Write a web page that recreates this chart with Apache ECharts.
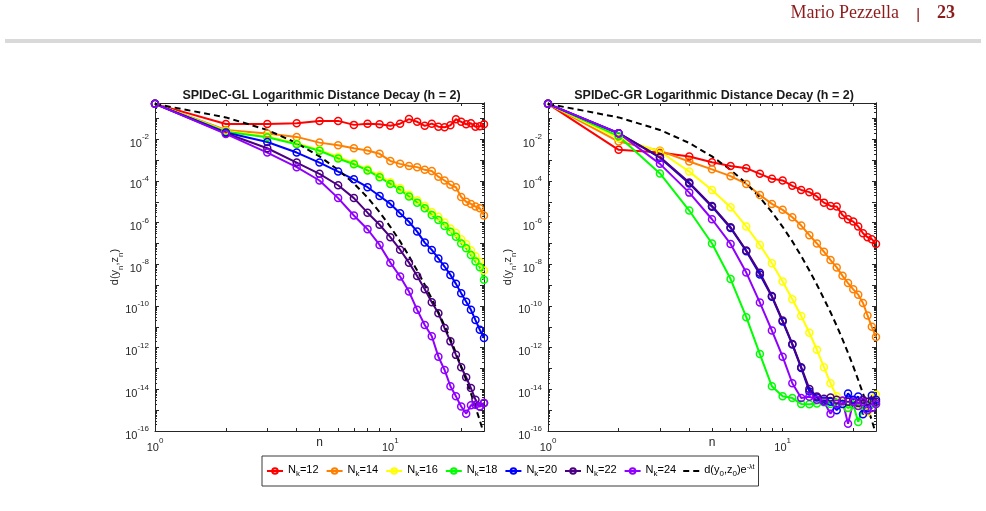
<!DOCTYPE html>
<html>
<head>
<meta charset="utf-8">
<title>SPIDeC Logarithmic Distance Decay</title>
<script src="https://cdn.jsdelivr.net/npm/echarts@6.0.0/dist/echarts.min.js"></script>
<style>
html,body{margin:0;padding:0;background:#ffffff;}
#chart{width:986px;height:511px;}
</style>
</head>
<body>
<div id="chart"></div>
<script>
// ---------------- data ----------------
const nSteps = [1,2,3,4,5,6,7,8,9,10,11,12,13,14,15,16,17,18,19,20,21,22,23,24,25];
const seriesNames = ['Nk=12','Nk=14','Nk=16','Nk=18','Nk=20','Nk=22','Nk=24'];
const boundName = 'd(y0,z0)e-λt';
const plotTitles = ['SPIDeC-GL Logarithmic Distance Decay (h = 2)', 'SPIDeC-GR Logarithmic Distance Decay (h = 2)'];
const xTickLabelExponents = [0, 1];
const yTickLabelExponents = [-16, -14, -12, -10, -8, -6, -4, -2];

// SPIDeC-GL  d(y_n, z_n)
const glN12 = [5.0e-1,5.4e-2,5.4e-2,5.9e-2,7.6e-2,7.6e-2,4.9e-2,5.6e-2,5.2e-2,4.5e-2,5.6e-2,9.3e-2,6.9e-2,4.4e-2,5.6e-2,4.0e-2,3.8e-2,4.7e-2,9.1e-2,6.9e-2,5.2e-2,5.9e-2,4.0e-2,4.2e-2,5.2e-2];
const glN14 = [5.0e-1,2.8e-2,1.9e-2,1.3e-2,6.9e-3,5.1e-3,3.7e-3,2.9e-3,2.0e-3,9.1e-4,6.6e-4,5.2e-4,4.6e-4,3.4e-4,3.0e-4,1.6e-4,1.05e-4,6.5e-5,5.0e-5,1.7e-5,1.0e-5,7.9e-6,5.9e-6,4.9e-6,2.2e-6];
const glN16 = [5.0e-1,2.5e-2,1.35e-2,6.5e-3,3.1e-3,1.4e-3,7.1e-4,3.6e-4,1.8e-4,8.7e-5,4.6e-5,2.2e-5,1.2e-5,6.5e-6,3.2e-6,1.9e-6,1.0e-6,5.2e-7,3.2e-7,1.6e-7,9.3e-8,4.7e-8,2.4e-8,1.3e-8,5.0e-9];
const glN18 = [5.0e-1,2.3e-2,1.26e-2,5.8e-3,2.8e-3,1.2e-3,6.3e-4,3.2e-4,1.5e-4,7.2e-5,3.7e-5,1.8e-5,9.1e-6,4.9e-6,2.3e-6,1.35e-6,6.9e-7,3.6e-7,2.1e-7,1.0e-7,5.9e-8,2.8e-8,1.35e-8,7.2e-9,1.8e-9];
const glN20 = [5.0e-1,2.1e-2,7.4e-3,2.3e-3,7.6e-4,2.8e-4,1.2e-4,5.0e-5,1.9e-5,7.9e-6,2.8e-6,1.1e-6,3.7e-7,1.1e-7,4.9e-8,1.9e-8,7.8e-9,3.1e-9,1.15e-9,4.1e-10,1.6e-10,6.5e-11,2.1e-11,7.2e-12,2.9e-12];
const glN22 = [5.0e-1,1.95e-2,3.7e-3,7.6e-4,2.2e-4,6.2e-5,1.5e-5,3.0e-6,7.9e-7,2.0e-7,5.0e-8,1.2e-8,2.75e-9,6.3e-10,1.5e-10,4.5e-11,8.7e-12,2.0e-12,4.5e-13,1.15e-13,3.8e-14,1.15e-14,3.2e-15,1.5e-15,2.2e-15];
const glN24 = [5.0e-1,1.8e-2,2.3e-3,4.6e-4,1.05e-4,1.5e-5,2.2e-6,4.8e-7,8.5e-8,1.2e-8,2.6e-9,4.9e-10,6.5e-11,1.23e-11,3.5e-12,3.7e-13,8.5e-14,1.4e-14,4.6e-15,1.5e-15,6.8e-16,1.7e-15,1.8e-15,1.5e-15,2.2e-15];

// SPIDeC-GR  d(y_n, z_n)
const grN12 = [5.0e-1,3.1e-3,2.3e-3,1.5e-3,7.9e-4,5.2e-4,4.1e-4,2.2e-4,1.26e-4,1.05e-4,5.8e-5,3.7e-5,2.9e-5,1.8e-5,9.1e-6,6.3e-6,5.9e-6,2.3e-6,1.45e-6,1.12e-6,6.5e-7,3.1e-7,2.0e-7,1.6e-7,9.5e-8];
const grN14 = [5.0e-1,7.8e-3,2.8e-3,8.5e-4,3.6e-4,1.7e-4,7.2e-5,2.1e-5,7.9e-6,4.1e-6,1.8e-6,7.2e-7,2.5e-7,1.0e-7,4.0e-8,1.6e-8,7.1e-9,2.8e-9,1.26e-9,6.3e-10,3.5e-10,1.4e-10,3.5e-11,1.0e-11,3.2e-12];
const grN16 = [5.0e-1,1.12e-2,2.6e-3,2.8e-4,3.7e-5,5.5e-6,6.5e-7,8.5e-8,1.12e-8,1.5e-9,2.1e-10,3.3e-11,5.2e-12,7.9e-13,1.15e-13,1.95e-14,4.6e-15,2.2e-15,1.26e-15,2.5e-15,1.8e-15,1.6e-15,7.9e-16,4.0e-15,5.5e-15];
const grN18 = [5.0e-1,1.4e-2,2.3e-4,3.8e-6,1.0e-7,1.95e-9,2.9e-11,4.9e-13,1.4e-14,4.6e-15,3.8e-15,2.0e-15,1.9e-15,2.1e-15,2.4e-15,2.0e-15,2.2e-15,2.0e-15,1.26e-15,1.8e-15,2.7e-16,1.6e-15,1.12e-15,2.0e-15,2.0e-15];
const grN20 = [5.0e-1,1.95e-2,1.3e-3,7.6e-5,5.8e-6,5.5e-7,4.2e-8,3.2e-9,2.75e-10,1.8e-11,1.4e-12,1.05e-13,7.9e-15,4.0e-15,2.8e-15,2.5e-15,1.0e-15,2.0e-15,6.3e-15,3.2e-15,4.5e-15,6.3e-16,1.26e-15,5.0e-15,3.2e-15];
const grN22 = [5.0e-1,1.95e-2,1.4e-3,8.3e-5,6.3e-6,6.0e-7,4.6e-8,3.9e-9,3.0e-10,2.0e-11,1.5e-12,1.15e-13,1.05e-14,4.5e-15,3.5e-15,4.0e-15,3.2e-15,2.8e-15,2.5e-15,2.5e-15,2.2e-15,3.2e-15,2.5e-15,2.8e-15,2.5e-15];
const grN24 = [5.0e-1,1.95e-2,6.6e-4,2.75e-5,1.45e-6,9.5e-8,4.0e-9,1.45e-10,6.6e-12,3.7e-13,1.95e-14,3.8e-15,4.4e-15,3.2e-15,2.5e-15,6.8e-16,2.0e-15,2.8e-15,2.2e-16,2.5e-15,1.6e-15,2.5e-15,1.0e-15,1.26e-15,2.0e-15];

// black dashed reference curve d(y0,z0) e^{-λt}, same in both panels
const boundValues = [5.0e-1,1.12e-1,2.8e-2,6.6e-3,1.5e-3,3.4e-4,7.6e-5,1.6e-5,3.2e-6,6.3e-7,1.26e-7,2.5e-8,5.0e-9,1.05e-9,2.2e-10,5.0e-11,1.12e-11,2.5e-12,5.6e-13,1.26e-13,2.8e-14,6.3e-15,1.4e-15,3.2e-16,7.1e-17];

// ---------------- styles ----------------
const seriesColors = ['#ff0000','#ff8000','#ffff00','#00ff00','#0000ff','#4b0082','#8f00ff'];
const FONT = '"Liberation Sans", Arial, Helvetica, sans-serif';
const SERIF = '"Liberation Serif", "DejaVu Serif", serif';
const AX = '#262626';

const glSets = [glN12, glN14, glN16, glN18, glN20, glN22, glN24];
const grSets = [grN12, grN14, grN16, grN18, grN20, grN22, grN24];

const L = Math.log10;
const xMax = L(nSteps[nSteps.length - 1]);
const yMin = -16, yMax = -0.26;

// tick positions of the log axes (in decades)
const xTickPos = [1,2,3,4,5,6,7,8,9,10,20].map(L);
const yMajorPos = []; for (let k = -16; k <= -1; k++) yMajorPos.push(k);
const yMinorPos = [];
for (let k = -16; k <= -1; k++) for (let m = 2; m <= 9; m++) { const v = k + L(m); if (v <= yMax) yMinorPos.push(v); }

const powRich = {
  b: { fontFamily: FONT, fontSize: 11, color: AX, lineHeight: 16, verticalAlign: 'bottom' },
  s: { fontFamily: FONT, fontSize: 8, color: AX, lineHeight: 8, verticalAlign: 'top' }
};
const nameRich = {
  a: { fontFamily: FONT, fontSize: 11, color: AX, lineHeight: 16, verticalAlign: 'top' },
  s: { fontFamily: FONT, fontSize: 8, color: AX, lineHeight: 8, verticalAlign: 'bottom' }
};

const grids = [
  { left: 155, top: 103, width: 329, height: 328, outerBoundsMode: 'none', containLabel: false },
  { left: 548, top: 103, width: 328, height: 328, outerBoundsMode: 'none', containLabel: false }
];

const xAxes = [], yAxes = [];
grids.forEach((g, gi) => {
  xAxes.push({
    type: 'value', gridIndex: gi, position: 'bottom', min: 0, max: xMax,
    axisLine: { show: true, onZero: false, lineStyle: { color: AX, width: 1 } },
    axisTick: { show: true, inside: true, length: 3, customValues: xTickPos, lineStyle: { color: AX, width: 1 } },
    axisLabel: { show: true, customValues: xTickLabelExponents, margin: 6,
      formatter: v => '{b|10}{s|' + Math.round(v) + '}', rich: powRich },
    splitLine: { show: false },
    name: 'n', nameLocation: 'middle', nameGap: 6, nameMoveOverlap: false,
    nameTextStyle: { fontFamily: FONT, fontSize: 12, color: AX }
  });
  xAxes.push({
    type: 'value', gridIndex: gi, position: 'top', min: 0, max: xMax,
    axisLine: { show: true, onZero: false, lineStyle: { color: AX, width: 1 } },
    axisTick: { show: true, inside: true, length: 3, customValues: xTickPos, lineStyle: { color: AX, width: 1 } },
    axisLabel: { show: false }, splitLine: { show: false }
  });
  const yBase = (pos, ticks, len, withLabels) => ({
    type: 'value', gridIndex: gi, position: pos, min: yMin, max: yMax,
    axisLine: { show: true, onZero: false, lineStyle: { color: AX, width: 1 } },
    axisTick: { show: true, inside: true, length: len, customValues: ticks, lineStyle: { color: AX, width: 1 } },
    axisLabel: withLabels ? { show: true, customValues: yTickLabelExponents, margin: 6, padding: [4, 0, 0, 0],
      formatter: v => '{b|10}{s|' + Math.round(v) + '}', rich: powRich } : { show: false },
    splitLine: { show: false }
  });
  const yl = yBase('left', yMajorPos, 4, true);
  yl.name = '{a|d(y}{s|n}{a|,z}{s|n}{a|)}';
  yl.nameLocation = 'middle';
  yl.nameGap = 30;
  yl.nameMoveOverlap = false;
  yl.nameTextStyle = { fontFamily: FONT, fontSize: 11, color: AX, rich: nameRich };
  yAxes.push(yl);
  yAxes.push(yBase('left', yMinorPos, 2, false));
  yAxes.push(yBase('right', yMajorPos, 4, false));
  yAxes.push(yBase('right', yMinorPos, 2, false));
});

const series = [];
[glSets, grSets].forEach((sets, gi) => {
  sets.forEach((vals, si) => {
    const c = seriesColors[si];
    series.push({
      type: 'line', name: seriesNames[si], xAxisIndex: gi * 2, yAxisIndex: gi * 4,
      data: nSteps.map((n, i) => [L(n), L(vals[i])]),
      symbol: 'circle', symbolSize: 7, showSymbol: true,
      lineStyle: { color: c, width: 2 },
      itemStyle: { color: 'rgba(255,255,255,0)', borderColor: c, borderWidth: 1.5 },
      emphasis: { disabled: true }, silent: true, clip: true
    });
  });
  series.push({
    type: 'line', name: boundName, xAxisIndex: gi * 2, yAxisIndex: gi * 4,
    data: nSteps.map((n, i) => [L(n), L(boundValues[i])]),
    symbol: 'none', showSymbol: false,
    lineStyle: { color: '#000000', width: 2, type: [6, 4] },
    itemStyle: { color: '#000000' },
    emphasis: { disabled: true }, silent: true, clip: true
  });
});

const legendRich = {
  a: { fontFamily: FONT, fontSize: 11, color: '#000', lineHeight: 14, verticalAlign: 'top' },
  k: { fontFamily: FONT, fontSize: 8, color: '#000', lineHeight: 8, verticalAlign: 'bottom' },
  p: { fontFamily: FONT, fontSize: 7, color: '#000', lineHeight: 7, verticalAlign: 'top' }
};

const option = {
  backgroundColor: '#ffffff',
  animation: false,
  grid: grids,
  xAxis: xAxes,
  yAxis: yAxes,
  title: plotTitles.map((t, i) => ({
    text: t, left: grids[i].left + grids[i].width / 2 + 2, top: 89, padding: 0,
    textAlign: 'center', textVerticalAlign: 'top',
    textStyle: { fontFamily: FONT, fontSize: 12.5, fontWeight: 'bold', color: '#1a1a1a', lineHeight: 14 }
  })),
  legend: {
    data: seriesNames.map(nm => ({ name: nm })).concat([{
      name: boundName,
      icon: 'path://M0,0 L6,0 L6,2 L0,2 Z M10,0 L16,0 L16,2 L10,2 Z',
      itemStyle: { color: '#000000' }
    }]),
    left: 262, top: 456, orient: 'horizontal',
    itemWidth: 16, itemHeight: 7, itemGap: 7,
    padding: [8, 4, 8, 4],
    borderColor: '#3a3a3a', borderWidth: 1, backgroundColor: '#ffffff',
    selectedMode: false,
    textStyle: { fontFamily: FONT, fontSize: 11, color: '#000', rich: legendRich },
    formatter: name => name.indexOf('Nk=') === 0
      ? '{a|N}{k|k}{a|' + name.slice(2) + '}'
      : '{a|d(y}{k|0}{a|,z}{k|0}{a|)e}{p|-λt}'
  },
  graphic: [
    { type: 'rect', shape: { x: 5, y: 39, width: 976, height: 4 }, style: { fill: '#d9d9d9' }, silent: true },
    { type: 'text', x: 899, y: 13.5, style: { text: 'Mario Pezzella', font: '18px ' + SERIF, fill: '#8c1c1c', align: 'right', verticalAlign: 'middle' }, silent: true },
    { type: 'rect', shape: { x: 917.5, y: 8, width: 1.3, height: 14 }, style: { fill: '#8c1c1c' }, silent: true },
    { type: 'text', x: 937, y: 13.5, style: { text: '23', font: 'bold 18px ' + SERIF, fill: '#8c1c1c', align: 'left', verticalAlign: 'middle' }, silent: true }
  ],
  series: series
};

const chart = echarts.init(document.getElementById('chart'), null, { renderer: 'canvas', width: 986, height: 511 });
chart.setOption(option);
</script>
</body>
</html>
